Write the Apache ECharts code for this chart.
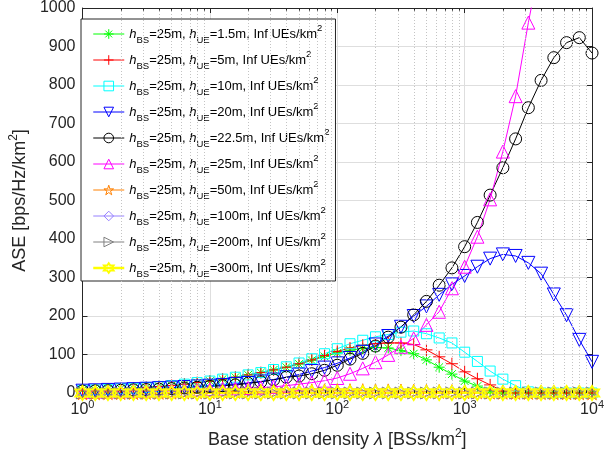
<!DOCTYPE html>
<html><head><meta charset="utf-8">
<script src="https://cdn.jsdelivr.net/npm/echarts@6/dist/echarts.min.js"></script>
<style>html,body{margin:0;padding:0;background:#fff}#c{width:607px;height:457px}</style>
</head><body><div id="c"></div>
<script>
// Base station density samples [BSs/km^2]
const lambda = [1, 1.2589, 1.5849, 1.9953, 2.5119, 3.1623, 3.9811, 5.0119, 6.3096, 7.9433,
  10, 12.589, 15.849, 19.953, 25.119, 31.623, 39.811, 50.119, 63.096, 79.433,
  100, 125.89, 158.49, 199.53, 251.19, 316.23, 398.11, 501.19, 630.96, 794.33,
  1000, 1258.9, 1584.9, 1995.3, 2511.9, 3162.3, 3981.1, 5011.9, 6309.6, 7943.3, 10000];

const hUE = ['1.5', '5', '10', '20', '22.5', '25', '50', '100', '200', '300'];

const ase_h1p5 = [7, 8, 9.5, 11, 12.5, 14.5, 17, 19.5, 23, 27,
  31, 36, 41, 47, 53, 60, 67, 75, 85, 95,
  104, 111, 116, 118, 117, 110, 102, 86, 67, 49,
  31, 18, 6, 0, 0, 0, 0, 0, 0, 0, 0];
const ase_h5 = [7, 8, 9.5, 11, 12.5, 14.5, 17, 19.5, 23, 27,
  31, 36, 41, 47, 53, 60, 67, 76, 86, 97,
  108, 117, 124, 128, 130, 130, 126, 112, 94, 76,
  55, 37, 21, 5, 0, 0, 0, 0, 0, 0, 0];
const ase_h10 = [7, 8, 9.5, 11, 12.5, 14.5, 17, 19.5, 23, 27,
  31, 36, 41, 47, 53, 61, 68, 78, 89, 102,
  115, 128, 137, 146, 152, 158, 161, 154, 143, 130,
  106, 82, 57, 36, 19, 3, 0, 0, 0, 0, 0];
const ase_h20 = [6, 7, 8, 9, 10, 11, 12.5, 14, 15.5, 17,
  19, 21, 23.5, 26, 30, 35, 41, 48, 57, 66,
  77, 91, 107, 126, 148, 172, 200, 225, 255, 282,
  304, 328, 349, 360, 356, 338, 310, 256, 202, 138, 81];
const ase_h22p5 = [5, 5.5, 6, 7, 8, 9, 10, 11.5, 13, 15,
  17, 19, 21, 25, 29, 34, 41, 44, 50, 59,
  72, 88, 103, 122, 145, 171, 203, 238, 280, 325,
  380, 443, 514, 585, 660, 741, 812, 871, 910, 923, 883];
const ase_h25 = [3, 3.5, 4, 4.5, 5, 5.5, 6, 7, 8, 9,
  10, 11, 12, 13, 14, 16, 19, 23, 27, 32,
  39, 50, 64, 80, 99, 120, 142, 177, 211, 272,
  328, 406, 503, 627, 771, 962, 1130, null, null, null, null];
const ase_h50 = [0.5, 0.6, 0.8, 1, 1.2, 1.5, 1.8, 2.2, 2.6, 3,
  3.3, 3.6, 4, 4.3, 4.6, 5, 5.2, 5.4, 5.6, 5.8,
  6, 6, 6, 5.8, 5.5, 5.2, 4.8, 4.4, 4, 3.6,
  3.2, 2.8, 2.4, 2, 1.7, 1.4, 1.1, 0.9, 0.7, 0.5, 0.4];
const ase_h100 = [0.2, 0.2, 0.3, 0.3, 0.4, 0.5, 0.6, 0.7, 0.8, 0.9,
  1, 1.1, 1.2, 1.3, 1.4, 1.5, 1.6, 1.7, 1.8, 1.9,
  2, 2, 2, 1.9, 1.8, 1.7, 1.6, 1.5, 1.4, 1.3,
  1.2, 1.1, 1, 0.9, 0.8, 0.7, 0.6, 0.5, 0.4, 0.3, 0.2];
const ase_h200 = [0, 0, 0, 0, 0, 0, 0, 0, 0, 0,
  0, 0, 0, 0, 0, 0, 0, 0, 0, 0,
  0, 0, 0, 0, 0, 0, 0, 0, 0, 0,
  0, 0, 0, 0, 0, 0, 0, 0, 0, 0, 0];
const ase_h300 = [0, 0, 0, 0, 0, 0, 0, 0, 0, 0,
  0, 0, 0, 0, 0, 0, 0, 0, 0, 0,
  0, 0, 0, 0, 0, 0, 0, 0, 0, 0,
  0, 0, 0, 0, 0, 0, 0, 0, 0, 0, 0];

const yTicks = [0, 100, 200, 300, 400, 500, 600, 700, 800, 900, 1000];
const xDecades = [1, 10, 100, 1000, 10000];
const minorMult = [2, 3, 4, 5, 6, 7, 8, 9];

// ---------- helpers ----------
function starPath(n, ri) {
  let d = '';
  for (let i = 0; i < 2 * n; i++) {
    const r = i % 2 === 0 ? 100 : 100 * ri;
    const a = -Math.PI / 2 + i * Math.PI / n;
    d += (i === 0 ? 'M' : 'L') + (r * Math.cos(a)).toFixed(1) + ',' + (r * Math.sin(a)).toFixed(1);
  }
  return 'path://' + d + 'Z';
}
const SYM = {
  asterisk: 'path://M0,-10L0,10M-10,0L10,0M-7.07,-7.07L7.07,7.07M-7.07,7.07L7.07,-7.07',
  plus: 'path://M0,-10L0,10M-10,0L10,0',
  square: 'rect',
  triDown: 'path://M-10,-8.66L10,-8.66L0,8.66Z',
  circle: 'circle',
  triUp: 'triangle',
  penta: starPath(5, 0.382),
  diamond: 'diamond',
  triRight: 'path://M8.66,0L-8.66,-10L-8.66,10Z',
  hexa: starPath(6, 0.577)
};

const minorVals = [];
xDecades.slice(0, 4).forEach(d => minorMult.forEach(m => minorVals.push(d * m)));

const names = hUE.map(h => 'h_BS=25m, h_UE=' + h + 'm, Inf UEs/km^2');
const colors = ['#00ff00', '#ff0000', '#00ffff', '#0000ff', '#000000', '#ff00ff', '#ff8000', '#9680ff', '#808080', '#ffff00'];
const symbols = [SYM.asterisk, SYM.plus, SYM.square, SYM.triDown, SYM.circle, SYM.triUp, SYM.penta, SYM.diamond, SYM.triRight, SYM.hexa];
const sizes = [11, 12, 10, 13, 12, 13, 14, 13, 12, 14];
const datas = [ase_h1p5, ase_h5, ase_h10, ase_h20, ase_h22p5, ase_h25, ase_h50, ase_h100, ase_h200, ase_h300];

function mk(idx) {
  const isY = idx === 9;
  return {
    type: 'line', name: names[idx],
    data: lambda.map((x, i) => [x, datas[idx][i]]),
    symbol: symbols[idx], symbolSize: sizes[idx], showSymbol: true, clip: true,
    lineStyle: { color: colors[idx], width: isY ? 2.5 : 1 },
    itemStyle: { color: 'rgba(0,0,0,0)', borderColor: colors[idx], borderWidth: isY ? 2 : 1 },
    emphasis: { disabled: true }, silent: true, z: 3
  };
}

const series = [
  { type: 'line', name: '_minorgrid', data: [], silent: true, z: 1,
    markLine: { silent: true, symbol: 'none', label: { show: false }, animation: false,
      lineStyle: { color: '#c4c4c4', type: [1, 2], width: 1 },
      data: minorVals.map(v => ({ xAxis: v })) } },
  { type: 'line', name: '_minorticks', data: [], silent: true, z: 4,
    markLine: { silent: true, symbol: 'none', label: { show: false }, animation: false,
      lineStyle: { color: '#262626', type: 'solid', width: 1 },
      data: [].concat(
        minorVals.map(v => [{ coord: [v, 0] }, { coord: [v, 7] }]),
        minorVals.map(v => [{ coord: [v, 1000] }, { coord: [v, 993] }])
      ) } }
].concat(hUE.map((h, i) => mk(i)));

const FONT = 'Liberation Sans, Arial, Helvetica, sans-serif';
const AX = '#262626';
const LF = 13;

const option = {
  animation: false,
  backgroundColor: '#fff',
  grid: { left: 77, right: 12, top: 8, bottom: 64, containLabel: false },
  legend: {
    orient: 'vertical', left: 81, top: 19,
    padding: [4, 6, 2, 11], itemGap: 4, itemWidth: 31, itemHeight: 12,
    borderColor: AX, borderWidth: 1, backgroundColor: '#fff',
    selectedMode: false,
    data: names.map((n, i) => ({
      name: n,
      itemStyle: { color: 'rgba(0,0,0,0)', borderColor: colors[i], borderWidth: i === 9 ? 2 : 1 },
      lineStyle: { color: colors[i], width: i === 9 ? 2.5 : 1 }
    })),
    formatter: function (name) {
      const i = names.indexOf(name);
      return '{i|h}{sub|BS}{n|=25m, }{i|h}{sub|UE}{n|=' + hUE[i] + 'm, Inf UEs/km}{sup|2}';
    },
    textStyle: {
      fontFamily: FONT, fontSize: LF, color: '#000', lineHeight: 22,
      rich: {
        n: { fontFamily: FONT, fontSize: LF, color: '#000', lineHeight: 22 },
        i: { fontFamily: FONT, fontSize: LF, color: '#000', fontStyle: 'italic', lineHeight: 22 },
        sub: { fontFamily: FONT, fontSize: 9.5, color: '#000', verticalAlign: 'bottom', lineHeight: 12 },
        sup: { fontFamily: FONT, fontSize: 9.5, color: '#000', verticalAlign: 'top', lineHeight: 12 }
      }
    }
  },
  xAxis: [{
    type: 'log', logBase: 10, min: 1, max: 10000,
    name: '{n|Base station density }{i|λ}{n| [BSs/km}{s|2}{n|]}',
    nameLocation: 'middle', nameGap: 35,
    nameTextStyle: {
      fontFamily: FONT, fontSize: 18, color: AX,
      rich: {
        n: { fontFamily: FONT, fontSize: 18, color: AX, lineHeight: 24 },
        i: { fontFamily: FONT, fontSize: 18, color: AX, fontStyle: 'italic', lineHeight: 24 },
        s: { fontFamily: FONT, fontSize: 12, color: AX, verticalAlign: 'top', lineHeight: 12 }
      }
    },
    axisLine: { show: true, onZero: false, lineStyle: { color: AX, width: 1 } },
    axisTick: { show: true, inside: true, length: 5, lineStyle: { color: AX } },
    axisLabel: {
      margin: 6, color: AX,
      formatter: function (v) { return '{b|10}{s|' + Math.round(Math.log10(v)) + '}'; },
      rich: {
        b: { fontFamily: FONT, fontSize: 16, color: AX, lineHeight: 22 },
        s: { fontFamily: FONT, fontSize: 11, color: AX, verticalAlign: 'top', lineHeight: 12 }
      }
    },
    splitLine: { show: true, lineStyle: { color: '#dedede', width: 1 } }
  }, {
    type: 'log', logBase: 10, min: 1, max: 10000, position: 'top',
    axisLine: { show: true, onZero: false, lineStyle: { color: AX, width: 1 } },
    axisTick: { show: true, inside: true, length: 5, lineStyle: { color: AX } },
    axisLabel: { show: false }, splitLine: { show: false }
  }],
  yAxis: [{
    type: 'value', min: 0, max: 1000, interval: 100,
    name: '{n|ASE [bps/Hz/km}{s|2}{n|]}',
    nameLocation: 'middle', nameGap: 44, nameRotate: 90,
    nameTextStyle: {
      fontFamily: FONT, fontSize: 18, color: AX,
      rich: {
        n: { fontFamily: FONT, fontSize: 18, color: AX, lineHeight: 24 },
        s: { fontFamily: FONT, fontSize: 12, color: AX, verticalAlign: 'top', lineHeight: 12 }
      }
    },
    axisLine: { show: true, lineStyle: { color: AX, width: 1 } },
    axisTick: { show: true, inside: true, length: 5, lineStyle: { color: AX } },
    axisLabel: { margin: 7, fontFamily: FONT, fontSize: 16, color: AX, formatter: v => String(v) },
    splitLine: { show: true, lineStyle: { color: '#dedede', width: 1 } }
  }, {
    type: 'value', min: 0, max: 1000, interval: 100, position: 'right',
    axisLine: { show: true, lineStyle: { color: AX, width: 1 } },
    axisTick: { show: true, inside: true, length: 5, lineStyle: { color: AX } },
    axisLabel: { show: false }, splitLine: { show: false }
  }],
  series: series
};

const chart = echarts.init(document.getElementById('c'), null, { renderer: 'canvas' });
chart.setOption(option);
</script>
</body></html>
